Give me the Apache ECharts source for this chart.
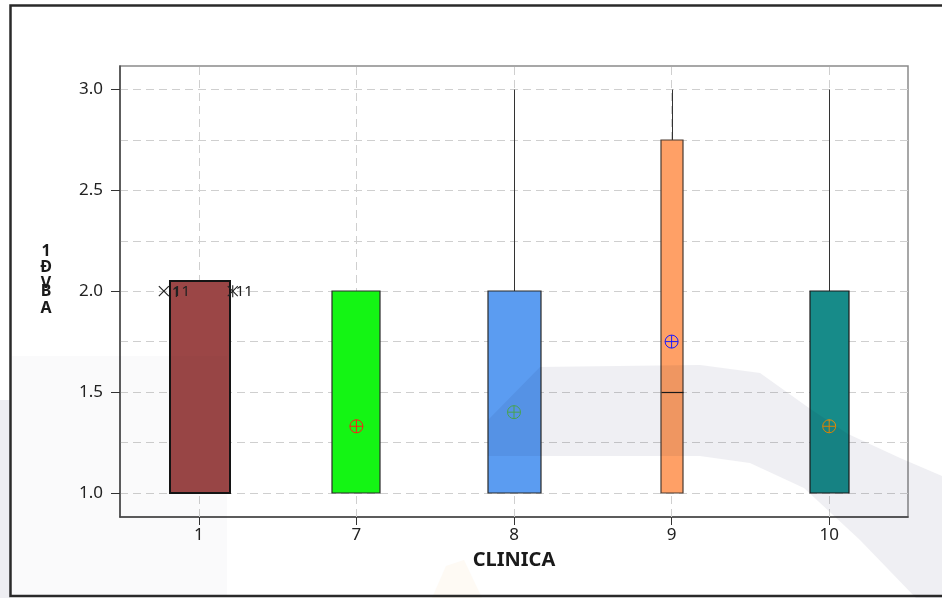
<!DOCTYPE html>
<html>
<head>
<meta charset="utf-8">
<title>CLINICA</title>
<script src="https://cdn.jsdelivr.net/npm/echarts@6/dist/echarts.min.js"></script>
<style>
  html, body { margin: 0; padding: 0; background: #ffffff; }
  #chart { width: 942px; height: 598px; }
</style>
</head>
<body>
<div id="chart"></div>
<script>
// Box-plot summary per clinic
const categories  = ['1', '7', '8', '9', '10'];
const whiskerLow  = [1.0, 1.0, 1.0, 1.0, 1.0];
const q1          = [1.0, 1.0, 1.0, 1.0, 1.0];
const median      = [1.0, 1.0, 1.0, 1.5, 1.0];
const q3          = [2.05, 2.0, 2.0, 2.75, 2.0];
const whiskerHigh = [2.05, 2.0, 3.0, 3.0, 3.0];
const means       = [null, 1.33, 1.40, 1.75, 1.33];

// Outliers of clinic 1 with their ID labels
const outlierValues = [2.0, 2.0];
const outlierLabels = ['11', '11'];

// Axis ticks
const yTickLabels = [1.0, 1.5, 2.0, 2.5, 3.0];
const yGridValues = [1.0, 1.25, 1.5, 1.75, 2.0, 2.25, 2.5, 2.75, 3.0];

// Appearance of each box
const boxFill        = ['#9b4646', '#14f514', '#5b9cf1', '#ffa066', '#178b89'];
const boxStroke      = ['#141414', '#2a2a2a', '#2a2a2a', '#4a3a30', '#1a1a1a'];
const boxStrokeWidth = [2, 1.2, 1.2, 1.2, 1.2];
const boxWidthRatio  = [0.38, 0.305, 0.337, 0.14, 0.248];
const meanColor      = [null, '#ff1a1a', '#4caf50', '#1a1aff', '#f08c00'];

const FONT = 'Noto Sans';

const boxData = categories.map((c, i) => [i, whiskerLow[i], q1[i], median[i], q3[i], whiskerHigh[i]]);
const outlierData = outlierValues.map((v, k) => [0, v, k]);

function crisp(v) { return Math.round(v) + 0.5; }

function renderBox(params, api) {
  const i = api.value(0);
  const band = api.size([1, 0])[0];
  const w = band * boxWidthRatio[i];
  const lo = api.coord([i, api.value(1)]);
  const bottom = api.coord([i, api.value(2)]);
  const med = api.coord([i, api.value(3)]);
  const top = api.coord([i, api.value(4)]);
  const hi = api.coord([i, api.value(5)]);
  const cx = crisp(top[0]);
  const children = [];
  const lineStyle = { stroke: '#333333', lineWidth: 1 };

  if (hi[1] < top[1] - 0.5) {
    children.push({ type: 'line', shape: { x1: cx, y1: hi[1], x2: cx, y2: top[1] }, style: lineStyle });
  }
  if (lo[1] > bottom[1] + 0.5) {
    children.push({ type: 'line', shape: { x1: cx, y1: bottom[1], x2: cx, y2: lo[1] }, style: lineStyle });
  }
  children.push({
    type: 'rect',
    shape: { x: Math.round(cx - w / 2), y: Math.round(top[1]), width: Math.round(w), height: Math.round(bottom[1] - top[1]) },
    style: { fill: boxFill[i], stroke: boxStroke[i], lineWidth: boxStrokeWidth[i] }
  });
  if (med[1] < bottom[1] - 0.5 && med[1] > top[1] + 0.5) {
    const my = crisp(med[1]);
    children.push({ type: 'line', shape: { x1: cx - w / 2, y1: my, x2: cx + w / 2, y2: my }, style: { stroke: '#1a1a1a', lineWidth: 1.2 } });
  }
  if (means[i] != null) {
    const p = api.coord([i, means[i]]);
    const r = 6.5;
    const mx = p[0], my = p[1];
    const mStyle = { stroke: meanColor[i], lineWidth: 1, fill: null };
    children.push({ type: 'circle', shape: { cx: mx, cy: my, r: r }, style: mStyle });
    children.push({ type: 'line', shape: { x1: mx - r, y1: my, x2: mx + r, y2: my }, style: mStyle });
    children.push({ type: 'line', shape: { x1: mx, y1: my - r, x2: mx, y2: my + r }, style: mStyle });
  }
  return { type: 'group', children: children };
}

function renderOutlier(params, api) {
  const i = api.value(0);
  const k = api.value(2);
  const band = api.size([1, 0])[0];
  const w = band * boxWidthRatio[i];
  const p = api.coord([i, api.value(1)]);
  const y = p[1];
  const s = 5;
  const st = { stroke: '#222222', lineWidth: 1.1 };
  const font = '15px "' + FONT + '"';
  const children = [];
  let mx, tx;
  if (k === 0) {
    mx = p[0] - w / 2 - 5;
    tx = mx + 9;
    children.push({ type: 'line', shape: { x1: mx - s, y1: y - s, x2: mx + s, y2: y + s }, style: st });
    children.push({ type: 'line', shape: { x1: mx - s, y1: y + s, x2: mx + s, y2: y - s }, style: st });
    // the ID is printed twice at this point, slightly shifted
    children.push({ type: 'text', style: { x: tx - 1, y: y + 2, text: '1', fill: '#222', font: font, verticalAlign: 'middle', align: 'left' } });
  } else {
    mx = p[0] + w / 2 + 4;
    tx = mx + 3;
    children.push({ type: 'line', shape: { x1: mx - s, y1: y - s, x2: mx + s, y2: y + s }, style: st });
    children.push({ type: 'line', shape: { x1: mx - s, y1: y + s, x2: mx + s, y2: y - s }, style: st });
    children.push({ type: 'line', shape: { x1: mx, y1: y - s - 1, x2: mx, y2: y + s + 1 }, style: st });
  }
  children.push({ type: 'text', style: { x: tx, y: y + 1, text: outlierLabels[k], fill: '#222', font: font, verticalAlign: 'middle', align: 'left' } });
  return { type: 'group', children: children };
}

const titleLetters = [
  { t: '1', y: 251 }, { t: 'Đ', y: 267.5 }, { t: 'V', y: 283 }, { t: 'B', y: 291.5 }, { t: 'A', y: 308.5 }
];

// faint background emblem shapes
const emblem = [
  {
    type: 'polygon', z: 60, silent: true,
    shape: { points: [[488, 456], [488, 420], [540, 367], [700, 365], [760, 373], [809, 408], [848, 434], [900, 458], [942, 476], [942, 598], [916, 598], [860, 540], [804, 488], [750, 463], [700, 456]] },
    style: { fill: '#efeff3', blend: 'multiply' }
  },
  {
    type: 'rect', z: 60, silent: true,
    shape: { x: 12, y: 356, width: 215, height: 240 },
    style: { fill: '#fafafb', blend: 'multiply' }
  },
  {
    type: 'rect', z: 60, silent: true,
    shape: { x: 0, y: 400, width: 10, height: 198 },
    style: { fill: '#eeeef2', blend: 'multiply' }
  },
  {
    type: 'polygon', z: 60, silent: true,
    shape: { points: [[432, 598], [446, 566], [464, 560], [482, 598]] },
    style: { fill: '#fefaf4', blend: 'multiply' }
  }
];

const chart = echarts.init(document.getElementById('chart'));
chart.setOption({
  animation: false,
  backgroundColor: '#ffffff',
  grid: {
    left: 120, right: 34, top: 66, bottom: 81,
    show: true, borderColor: '#8a8a8a', borderWidth: 1.5, backgroundColor: 'transparent'
  },
  xAxis: {
    type: 'category',
    data: categories,
    boundaryGap: true,
    name: 'CLINICA',
    nameLocation: 'middle',
    nameGap: 33,
    nameTextStyle: { fontFamily: FONT, fontWeight: 'bold', fontSize: 20, color: '#1a1a1a' },
    axisLine: { show: true, lineStyle: { color: '#444444', width: 1.5 } },
    axisTick: { show: true, alignWithLabel: true, length: 8, lineStyle: { color: '#333333' } },
    axisLabel: { margin: 10, fontFamily: FONT, fontSize: 17, color: '#222222' },
    splitLine: { show: false }
  },
  yAxis: [
    {
      type: 'value', min: 0.88, max: 3.117, position: 'left',
      axisLine: { show: true, lineStyle: { color: '#444444', width: 1.5 } },
      axisTick: { show: true, length: 9, customValues: yTickLabels, lineStyle: { color: '#333333' } },
      axisLabel: {
        customValues: yTickLabels, margin: 17, fontFamily: FONT, fontSize: 17, color: '#222222',
        formatter: v => Number(v).toFixed(1)
      },
      splitLine: { show: false }
    },
    {
      type: 'value', min: 0.88, max: 3.117, position: 'right',
      axisLine: { show: false },
      axisTick: { show: false, customValues: yGridValues },
      axisLabel: { show: false },
      splitLine: { show: true, lineStyle: { type: [8, 5], color: '#cfcfcf', width: 1 } }
    }
  ],
  graphic: [
    // page frame
    {
      type: 'rect', z: 50, silent: true,
      shape: { x: 10.5, y: 5.5, width: 945, height: 590.5 },
      style: { fill: null, stroke: '#2a2a2a', lineWidth: 2.5 }
    }
  ].concat(emblem).concat(titleLetters.map(l => ({
    type: 'text', z: 40, silent: true,
    style: {
      x: 46, y: l.y, text: l.t, align: 'center', verticalAlign: 'middle',
      font: 'bold 16px "' + FONT + '"', fill: '#1a1a1a'
    }
  }))),
  series: [
    {
      type: 'custom',
      name: 'box',
      xAxisIndex: 0, yAxisIndex: 0,
      z: 3,
      renderItem: renderBox,
      data: boxData,
      markLine: {
        z: 1, silent: true, symbol: ['none', 'none'],
        label: { show: false },
        lineStyle: { type: [8, 5], color: '#cfcfcf', width: 1 },
        emphasis: { disabled: true },
        data: categories.map((c, i) => ({ xAxis: i }))
      }
    },
    {
      type: 'custom',
      name: 'outlier',
      xAxisIndex: 0, yAxisIndex: 0,
      z: 4,
      renderItem: renderOutlier,
      data: outlierData
    }
  ]
});
</script>
</body>
</html>
